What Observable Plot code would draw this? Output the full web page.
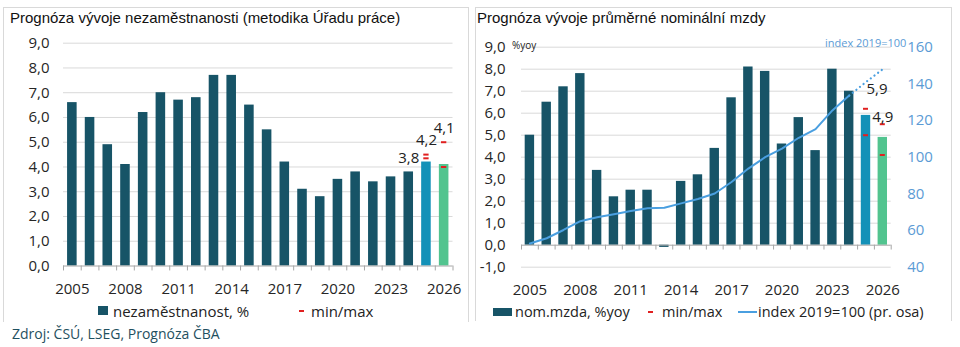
<!DOCTYPE html>
<html><head><meta charset="utf-8">
<script src="https://cdn.jsdelivr.net/npm/d3@7"></script>
<script src="https://cdn.jsdelivr.net/npm/@observablehq/plot@0.6"></script>
<style>
body{margin:0;background:#fff;}
#page{position:relative;width:960px;height:347px;overflow:hidden;font-family:"Open Sans",sans-serif;color:#222;}
.panel{position:absolute;border:1px solid #d9d9d9;border-bottom:none;box-sizing:border-box;}
.title{position:absolute;font-family:"Liberation Sans",Arial,sans-serif;font-size:15px;color:#111;white-space:nowrap;line-height:16px;}
.chart{position:absolute;top:0;}
.leg{position:absolute;font-size:14.5px;white-space:nowrap;line-height:16px;color:#222;}
.sw{position:absolute;}
</style></head><body><div id="page">
<div class="panel" style="left:3px;top:7px;width:466px;height:315px;"></div>
<div class="panel" style="left:475px;top:7px;width:477px;height:314px;"></div>
<div class="title" style="left:10px;top:10px;">Prognóza vývoje nezaměstnanosti (metodika Úřadu práce)</div>
<div class="title" style="left:477px;top:10px;">Prognóza vývoje průměrné nominální mzdy</div>
<div id="left" class="chart" style="left:0px;"></div>
<div id="right" class="chart" style="left:470px;"></div>
<div class="leg" style="left:512px;top:37px;font-size:10px;">%yoy</div>
<div class="leg" style="left:825px;top:35px;font-size:11px;color:#5b9bd5;">index 2019=100</div>
<div class="sw" style="left:98px;top:306px;width:10px;height:9px;background:#175467;"></div>
<div class="leg" style="left:113px;top:303px;font-size:15px;">nezaměstnanost, %</div>
<div class="sw" style="left:299px;top:310px;width:5px;height:2px;background:#e02020;"></div>
<div class="leg" style="left:311px;top:303px;font-size:15px;">min/max</div>
<div class="sw" style="left:493px;top:308px;width:19px;height:8px;background:#175467;"></div>
<div class="leg" style="left:515px;top:304px;">nom.mzda, %yoy</div>
<div class="sw" style="left:648px;top:311px;width:5px;height:2px;background:#e02020;"></div>
<div class="leg" style="left:662px;top:304px;">min/max</div>
<div class="sw" style="left:738px;top:311px;width:19px;height:2px;background:#4a9fe0;"></div>
<div class="leg" style="left:758px;top:304px;">index 2019=100 (pr. osa)</div>
<div class="leg" style="left:12px;top:325px;font-size:14px;color:#1f5060;line-height:18px;">Zdroj: ČSÚ, LSEG, Prognóza ČBA</div>
</div>
<script>
// ---- data ----
const years = [2005,2006,2007,2008,2009,2010,2011,2012,2013,2014,2015,2016,2017,2018,2019,2020,2021,2022,2023,2024,2025,2026];
const yearTicks = [2005,2008,2011,2014,2017,2020,2023,2026];
const unemployment = [6.6,6.0,4.9,4.1,6.2,7.0,6.7,6.8,7.7,7.7,6.5,5.5,4.2,3.1,2.8,3.5,3.8,3.4,3.6,3.8,4.2,4.1];
const unempRangeYears = [2025,2026];
const unempMin = [4.35,4.0];
const unempMax = [4.5,5.0];
const unempLabelYears = [2024,2025,2026];
const wageGrowth = [5.0,6.5,7.2,7.8,3.4,2.2,2.5,2.5,-0.1,2.9,3.2,4.4,6.7,8.1,7.9,4.6,5.8,4.3,8.0,7.0,5.9,4.9];
const wageRangeYears = [2025,2026];
const wageMin = [5.0,4.1];
const wageMax = [6.2,5.5];
const wageIndex = [52.9,55.8,60.3,65.1,67.2,68.9,70.6,72.2,72.4,74.8,77.2,80.2,86.5,93.8,100,104.7,110.6,115.3,125.5,133.6,141,148];
const lastActualYear = 2024;
const leftTicksU = [0,1,2,3,4,5,6,7,8,9];
const leftTicksW = [-1,0,1,2,3,4,5,6,7,8,9];
const rightTicksW = [40,60,80,100,120,140,160];

// ---- helpers ----
const fmt = d => d3.format(".1f")(d).replace(".", ",").replace("−","-");
const fill = d => d.year === 2025 ? "#1391b8" : d.year === 2026 ? "#52c48f" : "#175467";
const half = 0.27;
const bounds = d3.range(years[0]-0.5, years[years.length-1]+1, 1);
const baseStyle = {fontFamily:"Open Sans", fontSize:"15px", color:"#262626", background:"transparent", overflow:"visible"};

const uData = years.map((y,i)=>({year:y, value:unemployment[i]}));
const uRange = unempRangeYears.map((y,i)=>({year:y, min:unempMin[i], max:unempMax[i]}));
const uLabels = unempLabelYears.map(y=>{
  const v = unemployment[years.indexOf(y)];
  const r = uRange.find(d=>d.year===y);
  return {year:y, value:v, top: r ? Math.max(v, r.max) : v};
});

const left = Plot.plot({
  width:468, height:300, marginTop:42.7, marginBottom:34.5, marginLeft:63, marginRight:15.5,
  style: baseStyle,
  color:{type:"identity"},
  x:{domain:[years[0]-0.5, years[years.length-1]+0.5]},
  y:{domain:[0,9]},
  marks:[
    Plot.ruleY(leftTicksU.filter(v=>v!==0), {stroke:"#d9d9d9"}),
    Plot.rectY(uData, {x1:d=>d.year-half, x2:d=>d.year+half, y1:0, y2:"value", fill:fill}),
    Plot.ruleY([0], {stroke:"#a6a6a6"}),
    Plot.ruleX(bounds, {x:d=>d, y1:0, y2:-0.2, stroke:"#a6a6a6"}),
    Plot.ruleY(uRange.flatMap(d=>[{year:d.year,v:d.min},{year:d.year,v:d.max}]),
      {y:"v", x1:d=>d.year-0.15, x2:d=>d.year+0.15, stroke:"#e02020", strokeWidth:2}),
    Plot.text(uLabels, {x:"year", y:"top", text:d=>fmt(d.value), dy:-14, fontSize:15, fill:"#222"}),
    Plot.axisY({ticks:leftTicksU, tickSize:0, tickPadding:14, tickFormat:fmt, label:null}),
    Plot.axisX({ticks:yearTicks, tickSize:0, tickPadding:17, tickFormat:d=>String(d), label:null})
  ]
});
document.getElementById("left").append(left);

const toLeft = idx => (idx - 40)/12 - 1;
const toRight = v => Math.round((v + 1)*12 + 40);
const wData = years.map((y,i)=>({year:y, value:wageGrowth[i]}));
const wRange = wageRangeYears.map((y,i)=>({year:y, min:wageMin[i], max:wageMax[i]}));
const idxData = years.map((y,i)=>({year:y, idx:wageIndex[i]}));
const idxActual = idxData.filter(d=>d.year<=lastActualYear);
const idxForecast = idxData.filter(d=>d.year>=lastActualYear);
const wLabel = y => { const v = wageGrowth[years.indexOf(y)]; const r = wRange.find(d=>d.year===y); return {year:y, value:v, top:Math.max(v, r.max)}; };

const right = Plot.plot({
  width:490, height:300, marginTop:46.7, marginBottom:33.3, marginLeft:51, marginRight:69.3,
  style: baseStyle,
  color:{type:"identity"},
  x:{domain:[years[0]-0.5, years[years.length-1]+0.5]},
  y:{domain:[-1,9]},
  marks:[
    Plot.ruleY(leftTicksW.filter(v=>v!==0), {stroke:"#d9d9d9"}),
    Plot.rectY(wData, {x1:d=>d.year-half-0.01, x2:d=>d.year+half+0.01, y1:0, y2:"value", fill:fill}),
    Plot.ruleY([0], {stroke:"#a6a6a6"}),
    Plot.ruleX(bounds, {x:d=>d, y1:0, y2:-0.22, stroke:"#a6a6a6"}),
    Plot.line(idxActual, {x:"year", y:d=>toLeft(d.idx), stroke:"#4a9fe0", strokeWidth:2}),
    Plot.line(idxForecast, {x:"year", y:d=>toLeft(d.idx), stroke:"#4a9fe0", strokeWidth:2.2, strokeDasharray:"0.1,4.5", strokeLinecap:"round"}),
    Plot.ruleY(wRange.flatMap(d=>[{year:d.year,v:d.min},{year:d.year,v:d.max}]),
      {y:"v", x1:d=>d.year-0.15, x2:d=>d.year+0.15, stroke:"#e02020", strokeWidth:2}),
    Plot.text([wLabel(2025)], {x:"year", y:"top", text:d=>fmt(d.value), dy:-20, dx:11, fontSize:15, fill:"#222"}),
    Plot.text([wLabel(2026)], {x:"year", y:"top", text:d=>fmt(d.value), dy:-7, dx:0, fontSize:15, fill:"#222"}),
    Plot.axisY({ticks:leftTicksW, tickSize:0, tickPadding:16, tickFormat:fmt, label:null}),
    Plot.axisY(rightTicksW.map(toLeft), {anchor:"right", tickSize:0, tickPadding:16, tickFormat:d=>String(toRight(d)), label:null, color:"#5b9bd5"}),
    Plot.axisX({ticks:yearTicks, tickSize:0, tickPadding:17, tickFormat:d=>String(d), label:null})
  ]
});
document.getElementById("right").append(right);
</script>
</body></html>
